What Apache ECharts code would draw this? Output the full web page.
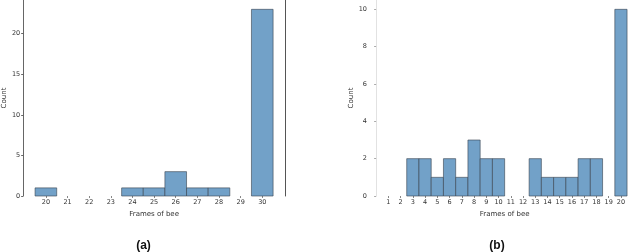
<!DOCTYPE html>
<html><head><meta charset="utf-8">
<script src="https://cdn.jsdelivr.net/npm/echarts@6/dist/echarts.min.js"></script>
<style>html,body{margin:0;padding:0;background:#fff}#c{width:640px;height:252px}</style>
</head><body><div id="c"></div>
<script>
// Panel (a)
const framesA = [20,21,22,23,24,25,26,27,28,29,30];
const countsA = [1,0,0,0,1,1,3,1,1,0,23];
const yTicksA = [0,5,10,15,20];
// Panel (b)
const framesB = [1,2,3,4,5,6,7,8,9,10,11,12,13,14,15,16,17,18,19,20];
const countsB = [0,0,2,2,1,2,1,3,2,2,0,0,2,1,1,1,2,2,0,10];
const yTicksB = [0,2,4,6,8,10];

const chart = echarts.init(document.getElementById('c'), null, {renderer:'canvas'});
const fill = '#72a1c8';
const edge = 'rgba(55,65,78,0.75)';
const lab = {fontFamily:'DejaVu Sans', fontSize:6.5, color:'#333'};

function binSeries(frames, counts, xi, yi){
  return {
    type:'custom', xAxisIndex:xi, yAxisIndex:yi,
    data: frames.map((f,i)=>[f,counts[i]]).filter(d=>d[1]>0),
    renderItem:function(params, api){
      const x = api.value(0), y = api.value(1);
      const p0 = api.coord([x-0.5, y]);
      const p1 = api.coord([x+0.5, 0]);
      return {type:'rect', shape:{x:p0[0], y:p0[1], width:p1[0]-p0[0], height:p1[1]-p0[1]},
        style:{fill:fill, stroke:edge, lineWidth:0.8}};
    }
  };
}

const nameStyle = {fontFamily:'DejaVu Sans', fontSize:7, color:'#333'};
const option = {
  animation:false,
  grid:[
    {left:16, right:355, top:0, bottom:56},
    {left:370, right:0.7, top:0, bottom:56}
  ],
  xAxis:[
    {type:'value', gridIndex:0, min:18.95, max:31.05,
     name:'Frames of bee', nameLocation:'middle', nameGap:7, nameTextStyle:nameStyle,
     axisLine:{show:false}, splitLine:{show:false},
     axisTick:{show:true, length:2, customValues:framesA, lineStyle:{color:'#888'}},
     axisLabel:Object.assign({customValues:framesA, margin:3}, lab)},
    {type:'value', gridIndex:1, min:-0.5, max:21.5,
     name:'Frames of bee', nameLocation:'middle', nameGap:7, nameTextStyle:nameStyle,
     axisLine:{show:false}, splitLine:{show:false},
     axisTick:{show:true, length:2, customValues:framesB, lineStyle:{color:'#888'}},
     axisLabel:Object.assign({customValues:framesB, margin:3}, lab)}
  ],
  yAxis:[
    {type:'value', gridIndex:0, min:0, max:24.15,
     name:'Count', nameLocation:'middle', nameGap:11, nameTextStyle:nameStyle,
     axisLine:{show:true, lineStyle:{color:'#666', width:1}},
     splitLine:{show:false},
     axisTick:{show:true, length:2, customValues:yTicksA, lineStyle:{color:'#666'}},
     axisLabel:Object.assign({customValues:yTicksA, margin:3}, lab)},
    {type:'value', gridIndex:0, position:'right', min:0, max:24.15,
     axisLine:{show:true, lineStyle:{color:'#555', width:1}},
     splitLine:{show:false}, axisTick:{show:false}, axisLabel:{show:false}},
    {type:'value', gridIndex:1, min:0, max:10.5,
     name:'Count', nameLocation:'middle', nameGap:11, nameTextStyle:nameStyle,
     axisLine:{show:true, lineStyle:{color:'#e2e2e2', width:1}},
     splitLine:{show:false},
     axisTick:{show:true, length:2, customValues:yTicksB, lineStyle:{color:'#aaa'}},
     axisLabel:Object.assign({customValues:yTicksB, margin:3}, lab)}
  ],
  series:[ binSeries(framesA, countsA, 0, 0), binSeries(framesB, countsB, 1, 2) ],
  graphic:[
    {type:'text', style:{text:'(a)', x:143.5, y:245.5, align:'center', verticalAlign:'middle',
      font:'bold 12px "Liberation Sans", Arial', fill:'#111'}},
    {type:'text', style:{text:'(b)', x:497, y:245.5, align:'center', verticalAlign:'middle',
      font:'bold 12px "Liberation Sans", Arial', fill:'#111'}}
  ]
};
chart.setOption(option);
</script></body></html>
